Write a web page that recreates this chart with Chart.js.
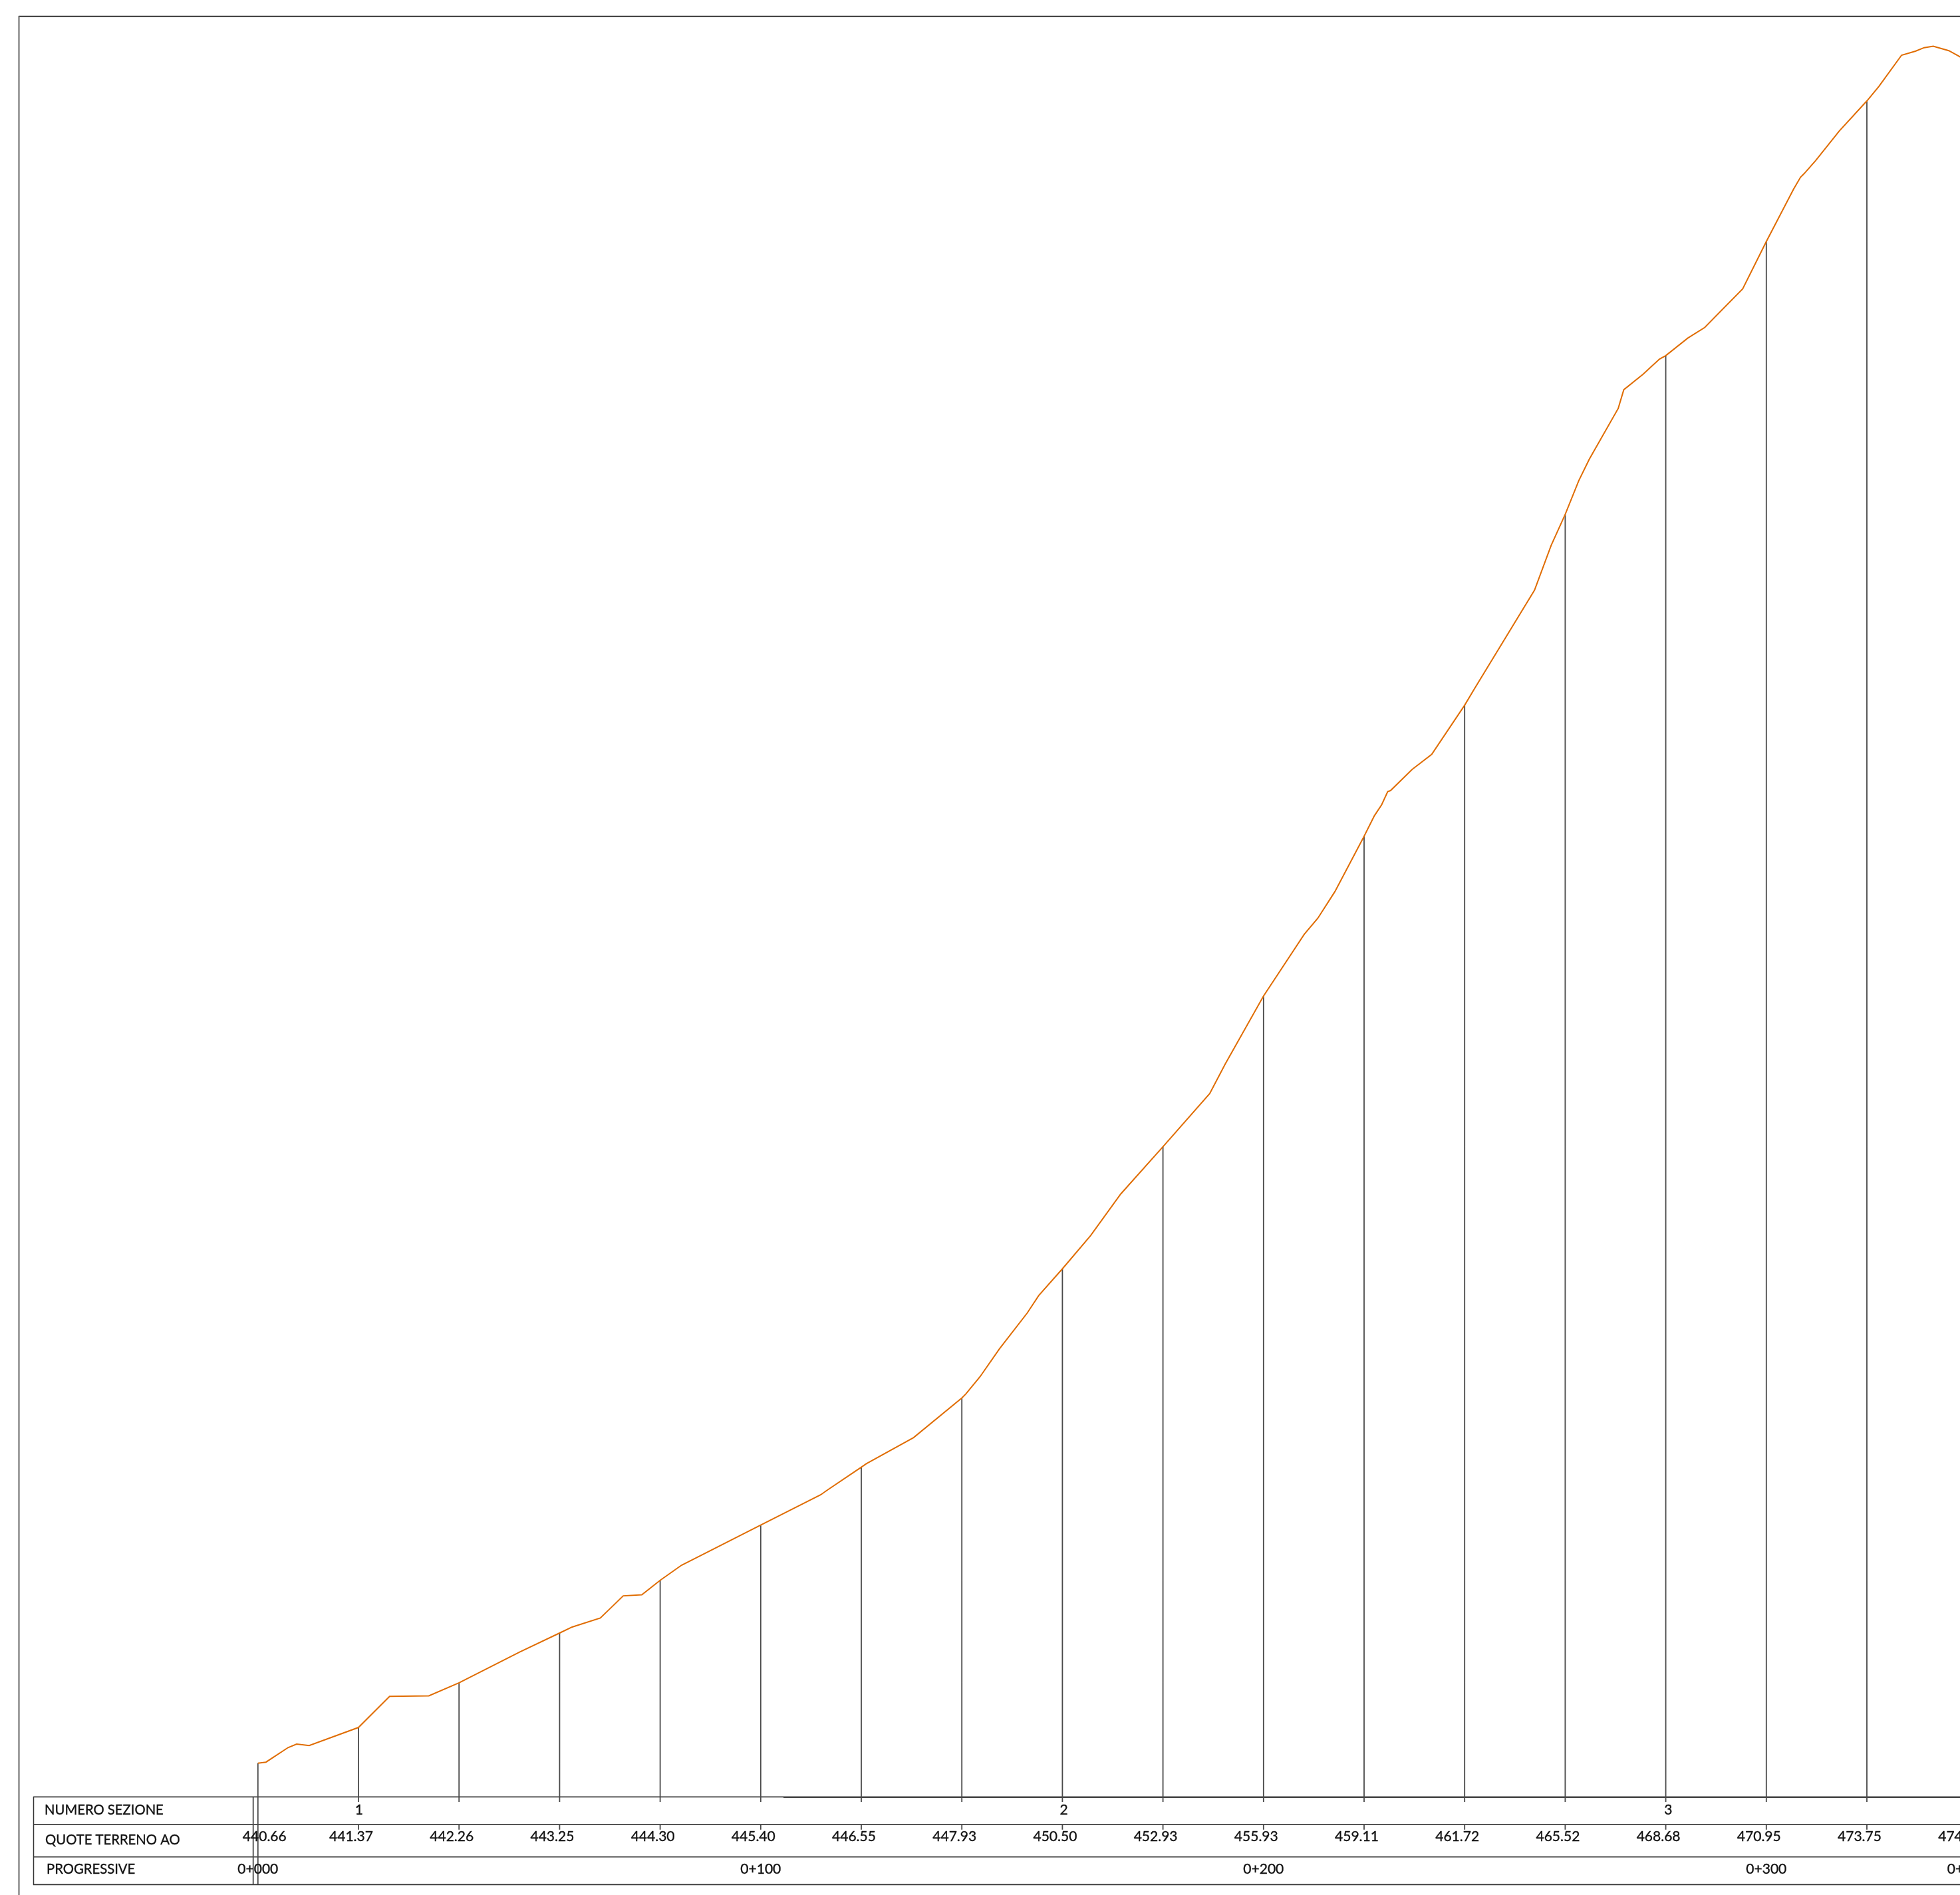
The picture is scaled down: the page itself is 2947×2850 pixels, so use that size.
<!DOCTYPE html>
<html lang="it">
<head>
  <meta charset="UTF-8">
  <title>Profilo longitudinale</title>
  <script src="https://cdn.jsdelivr.net/npm/chart.js"></script>
  <style>
    * { margin: 0; padding: 0; }
    html, body { background: #fff; overflow: hidden; }
    canvas { display: block; }
  </style>
</head>
<body>
  <canvas id="profilo" width="2947" height="2850" style="width:2947px;height:2850px"></canvas>

  <script>
    // Ground profile, chainage in metres and elevation in metres
    const profileChainage = [0, 1.6, 6.0, 7.7, 10.2, 20, 26.2, 34.0, 40, 52.05, 60, 62.5, 68.1, 72.65, 76.35, 80, 84.25,
      100, 111.9, 113.3, 120, 121.0, 130.4, 140, 140.8, 143.6, 147.5, 153.0, 155.3, 160, 165.6, 171.6, 180, 189.3, 192.4,
      200, 208.1, 210.8, 214.2, 220, 222.05, 223.5, 224.7, 225.25, 229.55, 233.45, 240, 241.9, 253.9, 257.2, 260,
      262.7, 264.8, 270.55, 271.65, 275.5, 278.75, 280, 284.4, 287.75, 295.3, 300, 305.4, 306.8, 307.5, 309.8, 314.5, 320, 322.4,
      326.9, 329.65, 331.4, 333.2, 336.3, 338.5, 340];
    const profileQuote = [440.66, 440.68, 440.97, 441.04, 441.01, 441.37, 441.99, 442.00, 442.26, 442.87, 443.25, 443.37, 443.55, 443.99, 444.01, 444.30, 444.60,
      445.40, 446.00, 446.10, 446.55, 446.62, 447.14, 447.93, 448.01, 448.35, 448.91, 449.62, 449.97, 450.50, 451.16, 451.99, 452.93, 453.99, 454.58,
      455.93, 457.16, 457.48, 458.01, 459.11, 459.52, 459.74, 460.00, 460.02, 460.44, 460.74, 461.72, 462.04, 464.01, 464.90, 465.52,
      466.19, 466.62, 467.63, 468.00, 468.31, 468.61, 468.68, 469.03, 469.24, 470.01, 470.95, 471.99, 472.23, 472.30, 472.56, 473.15, 473.75, 474.04,
      474.66, 474.74, 474.81, 474.84, 474.75, 474.63, 474.50];

    // Table rows
    const stations = [0, 20, 40, 60, 80, 100, 120, 140, 160, 180, 200, 220, 240, 260, 280, 300, 320, 340];
    const stationQuotes = ['440.66', '441.37', '442.26', '443.25', '444.30', '445.40', '446.55', '447.93', '450.50',
      '452.93', '455.93', '459.11', '461.72', '465.52', '468.68', '470.95', '473.75', '474.50'];
    const sectionNumbers = ['1', '2', '3'];
    const sectionChainage = [20.1, 160.3, 280.5];
    const progressiveLabels = ['0+000', '0+100', '0+200', '0+300', '0+340'];
    const progressiveChainage = [0, 100, 200, 300, 340];
    const rowTitles = ['NUMERO SEZIONE', 'QUOTE TERRENO AO', 'PROGRESSIVE'];

    // Elevations where the stems stop, on the table
    const stemFoot = 439.888;
    const tickTop = 439.44;
    const tickFoot = 439.335;
    const tableFoot = 438.25;
    const tableHead = 439.98;

    const points = stations.slice(1).flatMap((s, i) => [
      { x: s, y: Number(stationQuotes[i + 1]) }, { x: s, y: stemFoot }, { x: s, y: null },
      { x: s, y: tickTop }, { x: s, y: tickFoot }, { x: s, y: null }
    ]);
    const firstStem = [
      { x: 0, y: 440.66 }, { x: 0, y: tableFoot }, { x: 0, y: null },
      { x: -0.94, y: tableHead }, { x: -0.94, y: tableFoot }
    ];

    const tablePlugin = {
      id: 'tabella',
      beforeDatasetsDraw(chart) {
        const ctx = chart.ctx;
        const w = chart.width;
        const h = chart.height;
        const seg = (x1, y1, x2, y2, color, lw) => {
          ctx.strokeStyle = color;
          ctx.lineWidth = lw;
          ctx.beginPath();
          ctx.moveTo(x1, y1);
          ctx.lineTo(x2, y2);
          ctx.stroke();
        };
        ctx.save();
        // outer frame, open on the right and at the bottom
        seg(28, 24.5, w, 24.5, '#111', 1.5);
        seg(28.5, 24, 28.5, h, '#666', 2);
        // table
        seg(50, 2702.5, w, 2702.5, '#111', 1.5);
        seg(1178, 2703.4, w, 2703.4, '#444', 1.2);
        seg(50, 2744, w, 2744, '#555', 1.8);
        seg(50, 2792.7, w, 2792.7, '#333', 1.5);
        seg(50, 2834.3, w, 2834.3, '#333', 1.7);
        seg(50.5, 2702, 50.5, 2835, '#333', 1.5);
        ctx.restore();
      },
      afterDatasetsDraw(chart) {
        const ctx = chart.ctx;
        const xs = chart.scales.x;
        const put = (t, x, y) => {
          ctx.fillText(t, x, y);
          ctx.strokeText(t, x, y);
        };
        ctx.save();
        ctx.fillStyle = '#111';
        ctx.strokeStyle = '#111';
        ctx.lineWidth = 0.35;
        ctx.textBaseline = 'middle';
        ctx.font = '21px Lato';
        ctx.textAlign = 'center';
        sectionNumbers.forEach((t, i) => put(t, xs.getPixelForValue(sectionChainage[i]), 2722));
        stationQuotes.forEach((t, i) => {
          const shift = i === 0 ? 10 : -11;
          put(t, xs.getPixelForValue(stations[i]) + shift, 2762);
        });
        progressiveLabels.forEach((t, i) => put(t, xs.getPixelForValue(progressiveChainage[i]), 2811.5));
        // row titles are a little narrower than the plain font
        ctx.textAlign = 'left';
        [[67, 2722], [68, 2767], [70, 2811.5]].forEach((p, i) => {
          ctx.save();
          ctx.translate(p[0], p[1]);
          ctx.scale(0.965, 1);
          put(rowTitles[i], 0, 0);
          ctx.restore();
        });
        ctx.restore();
      }
    };

    new Chart(document.getElementById('profilo'), {
      type: 'line',
      data: {
        datasets: [
          {
            label: 'Terreno',
            data: profileChainage.map((c, i) => ({ x: c, y: profileQuote[i] })),
            borderColor: '#E06C00',
            borderWidth: 2,
            pointRadius: 0,
            tension: 0,
            order: 0
          },
          {
            label: 'Sezioni',
            data: firstStem.concat({ x: 0, y: null }, points),
            borderColor: '#4a4a4a',
            borderWidth: 1.8,
            pointRadius: 0,
            tension: 0,
            spanGaps: false,
            order: 1
          }
        ]
      },
      options: {
        responsive: false,
        animation: false,
        devicePixelRatio: 1,
        layout: { padding: 0 },
        plugins: { legend: { display: false }, title: { display: false }, tooltip: { enabled: false } },
        scales: {
          x: { type: 'linear', display: false, min: -51.296, max: 338.52 },
          y: { type: 'linear', display: false, min: 438.035, max: 475.759 }
        }
      },
      plugins: [tablePlugin]
    });
  </script>
</body>
</html>
